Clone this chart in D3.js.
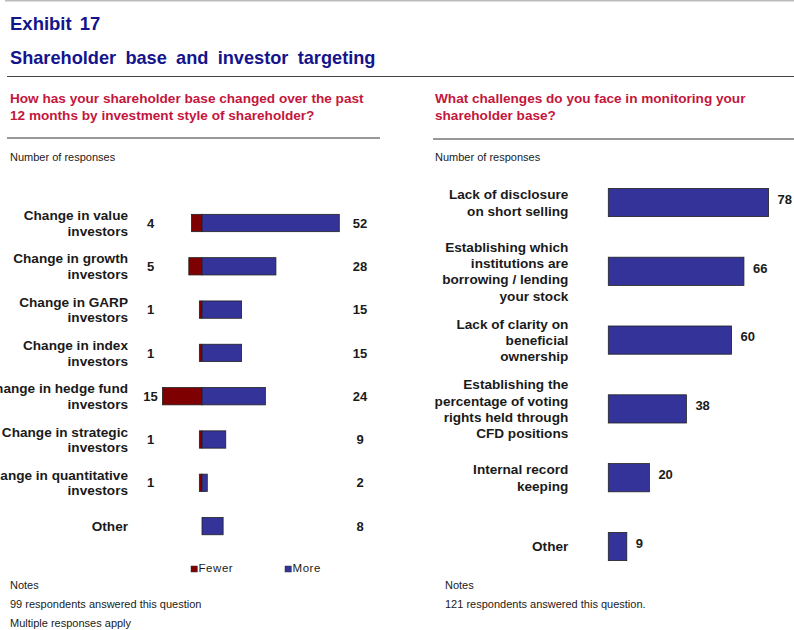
<!DOCTYPE html>
<html>
<head>
<meta charset="utf-8">
<script src="https://cdn.jsdelivr.net/npm/d3@7"></script>
<style>
  body { margin: 0; background: #fff; }
  svg { display: block; font-family: "Liberation Sans", Arial, sans-serif; }
</style>
</head>
<body>
<svg id="chart" width="794" height="630"></svg>
<script>
// left panel: change by investment style
const styleCategories = [
  ["Change in value", "investors"],
  ["Change in growth", "investors"],
  ["Change in GARP", "investors"],
  ["Change in index", "investors"],
  ["Change in hedge fund", "investors"],
  ["Change in strategic", "investors"],
  ["Change in quantitative", "investors"],
  ["Other"]
];
const fewerCounts = [4, 5, 1, 1, 15, 1, 1, null];
const moreCounts = [52, 28, 15, 15, 24, 9, 2, 8];
const legendKeys = ["Fewer", "More"];

// right panel: monitoring challenges
const challengeCategories = [
  ["Lack of disclosure", "on short selling"],
  ["Establishing which", "institutions are", "borrowing / lending", "your stock"],
  ["Lack of clarity on", "beneficial", "ownership"],
  ["Establishing the", "percentage of voting", "rights held through", "CFD positions"],
  ["Internal record", "keeping"],
  ["Other"]
];
const challengeCounts = [78, 66, 60, 38, 20, 9];

const leftNotes = ["Notes", "99 respondents answered this question", "Multiple responses apply"];
const rightNotes = ["Notes", "121 respondents answered this question."];

const colors = { fewer: "#7f0000", more: "#333399", title: "#14148c", question: "#c4163c", text: "#1a1a1a" };

const svg = d3.select("#chart");

// header
svg.append("line").attr("x1", 5).attr("x2", 794).attr("y1", 0.75).attr("y2", 0.75)
  .attr("stroke", "#bbb").attr("stroke-width", 1.5);
svg.append("text").attr("x", 10).attr("y", 30).text("Exhibit 17")
  .attr("font-size", 18.5).attr("font-weight", "bold").attr("fill", colors.title).attr("word-spacing", 3);
svg.append("text").attr("x", 10).attr("y", 64).text("Shareholder base and investor targeting")
  .attr("font-size", 18.2).attr("font-weight", "bold").attr("fill", colors.title).attr("word-spacing", 4.2);
svg.append("line").attr("x1", 7).attr("x2", 794).attr("y1", 76.5).attr("y2", 76.5)
  .attr("stroke", "#444").attr("stroke-width", 1.2);

function drawQuestion(x, lines, ruleX1, ruleX2, ruleY) {
  svg.append("g").selectAll("text").data(lines).join("text")
    .attr("x", x).attr("y", (d, i) => 103 + i * 16.5)
    .attr("font-size", 13.6).attr("font-weight", "bold").attr("fill", colors.question)
    .text(d => d);
  svg.append("line").attr("x1", ruleX1).attr("x2", ruleX2).attr("y1", ruleY).attr("y2", ruleY)
    .attr("stroke", "#333").attr("stroke-width", 1.2);
  svg.append("text").attr("x", x).attr("y", 161).attr("font-size", 11)
    .attr("fill", colors.text).text("Number of responses");
}
drawQuestion(10, ["How has your shareholder base changed over the past", "12 months by investment style of shareholder?"], 7, 380, 138);
drawQuestion(435, ["What challenges do you face in monitoring your", "shareholder base?"], 433, 794, 139);

// multi-line category label, centred on the band
function drawLabels(g, cats, yScale, x, lineH) {
  const capH = 9.7;
  g.selectAll("text.cat").data(cats).join("text")
    .attr("class", "cat")
    .attr("text-anchor", "end")
    .attr("font-size", 13.6).attr("font-weight", "bold").attr("fill", colors.text)
    .each(function (lines, i) {
      const mid = yScale(i) + yScale.bandwidth() / 2;
      const first = mid - ((lines.length - 1) * lineH + capH) / 2 + capH;
      d3.select(this).selectAll("tspan").data(lines).join("tspan")
        .attr("x", x).attr("y", (d, j) => first + j * lineH).text(d => d);
    });
}

// left chart
const left = svg.append("g");
const xL = d3.scaleLinear().domain([0, 60]).range([202, 360.4]);
const yL = d3.scaleBand().domain(d3.range(styleCategories.length))
  .range([201.35, 547.75]).paddingInner(0.6).paddingOuter(0.3);

drawLabels(left, styleCategories, yL, 128, 15.5);

left.selectAll("rect.fewer").data(fewerCounts).join("rect")
  .attr("class", "fewer")
  .attr("x", d => xL(-(d || 0)))
  .attr("y", (d, i) => yL(i))
  .attr("width", d => xL(0) - xL(-(d || 0)))
  .attr("height", yL.bandwidth())
  .attr("fill", colors.fewer).attr("stroke", "#222").attr("stroke-width", 0.8)
  .style("display", d => d ? null : "none");

left.selectAll("rect.more").data(moreCounts).join("rect")
  .attr("class", "more")
  .attr("x", xL(0))
  .attr("y", (d, i) => yL(i))
  .attr("width", d => xL(d) - xL(0))
  .attr("height", yL.bandwidth())
  .attr("fill", colors.more).attr("stroke", "#222").attr("stroke-width", 0.8);

left.selectAll("text.fewer-val").data(fewerCounts).join("text")
  .attr("class", "fewer-val")
  .attr("x", 150.5).attr("y", (d, i) => yL(i) + yL.bandwidth() / 2).attr("dy", "0.36em")
  .attr("text-anchor", "middle").attr("font-size", 13).attr("font-weight", "bold").attr("fill", colors.text)
  .text(d => d == null ? "" : d);

left.selectAll("text.more-val").data(moreCounts).join("text")
  .attr("class", "more-val")
  .attr("x", 360).attr("y", (d, i) => yL(i) + yL.bandwidth() / 2).attr("dy", "0.36em")
  .attr("text-anchor", "middle").attr("font-size", 13).attr("font-weight", "bold").attr("fill", colors.text)
  .text(d => d);

// legend
const legend = left.selectAll("g.key").data(legendKeys).join("g")
  .attr("class", "key")
  .attr("transform", (d, i) => `translate(${191 + i * 94},566)`);
legend.append("rect").attr("width", 6.3).attr("height", 6)
  .attr("fill", (d, i) => i === 0 ? colors.fewer : colors.more).attr("stroke", "#333").attr("stroke-width", 0.5);
legend.append("text").attr("x", 7.5).attr("y", 6.3).attr("font-size", 11.5).attr("letter-spacing", 0.55)
  .attr("fill", colors.text).text(d => d);

// right chart
const right = svg.append("g");
const xR = d3.scaleLinear().domain([0, 80]).range([608.3, 772.7]);
const yR = d3.scaleBand().domain(d3.range(challengeCategories.length))
  .range([168.1, 580.9]).paddingInner(0.59).paddingOuter(0.295);

drawLabels(right, challengeCategories, yR, 568.3, 16.4);

right.selectAll("rect.bar").data(challengeCounts).join("rect")
  .attr("class", "bar")
  .attr("x", xR(0))
  .attr("y", (d, i) => yR(i))
  .attr("width", d => xR(d) - xR(0))
  .attr("height", yR.bandwidth())
  .attr("fill", colors.more).attr("stroke", "#222").attr("stroke-width", 0.8);

right.selectAll("text.val").data(challengeCounts).join("text")
  .attr("class", "val")
  .attr("x", d => xR(d) + 9).attr("y", (d, i) => yR(i) + yR.bandwidth() / 2).attr("dy", "0.1em")
  .attr("font-family", '"Liberation Sans Narrow", "Liberation Sans", Arial, sans-serif')
  .attr("font-size", 13).attr("font-weight", "bold").attr("fill", colors.text)
  .text(d => d);

// notes
function drawNotes(x, lines) {
  svg.append("g").selectAll("text").data(lines).join("text")
    .attr("x", x).attr("y", (d, i) => 589 + i * 19)
    .attr("font-size", 11).attr("fill", colors.text).text(d => d);
}
drawNotes(10, leftNotes);
drawNotes(445, rightNotes);
</script>
</body>
</html>
